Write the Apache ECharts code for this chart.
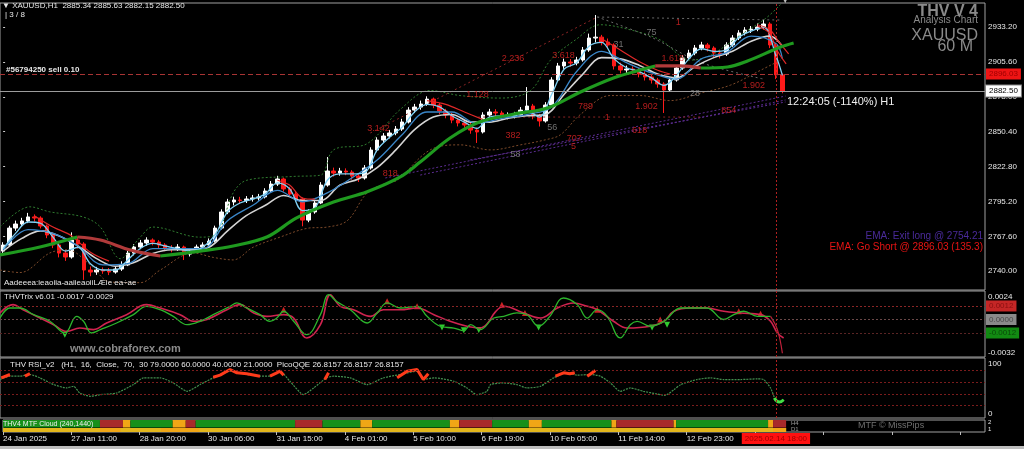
<!DOCTYPE html>
<html><head><meta charset="utf-8">
<script src="https://cdn.jsdelivr.net/npm/echarts@6/dist/echarts.min.js"></script>
<style>html,body{margin:0;padding:0;background:#000;overflow:hidden}#c{width:1024px;height:449px}</style>
</head><body><div id="c"></div>
<script>
// ---------------- DATA ----------------
const SLOTS = 158; // 3-hour bar slots across the visible window (incl. chart shift)
const priceTicks = [2740.00, 2767.60, 2795.20, 2822.80, 2850.40, 2878.00, 2905.60, 2933.20];
const timeLabels = ['24 Jan 2025','27 Jan 11:00','28 Jan 20:00','30 Jan 06:00','31 Jan 15:00','4 Feb 01:00','5 Feb 10:00','6 Feb 19:00','10 Feb 05:00','11 Feb 14:00','12 Feb 23:00'];
const lastBarLabel = '2025.02.14 18:00';
// [open, close, low, high]
const candles = [
[2756.0,2760.8,2753.5,2763.0],[2760.8,2774.2,2759.5,2776.0],[2774.2,2777.4,2772.0,2780.1],[2777.4,2779.8,2775.6,2782.3],
[2779.8,2783.0,2778.1,2786.2],[2783.0,2782.1,2779.4,2785.0],[2782.1,2775.8,2773.9,2783.5],[2775.8,2768.7,2766.2,2777.0],
[2768.7,2760.8,2758.3,2770.4],[2760.8,2754.4,2751.0,2762.5],[2754.4,2751.3,2748.2,2757.0],[2751.3,2764.7,2750.0,2770.8],
[2764.7,2761.6,2758.0,2767.3],[2761.6,2741.0,2733.2,2763.0],[2741.0,2739.4,2736.1,2743.8],[2739.4,2741.0,2737.2,2743.5],
[2741.0,2740.2,2738.0,2743.1],[2740.2,2739.4,2737.0,2742.6],[2739.4,2741.8,2738.1,2744.0],[2741.8,2745.0,2740.3,2747.9],
[2745.0,2754.4,2744.1,2756.2],[2754.4,2759.2,2752.6,2761.4],[2759.2,2762.4,2757.5,2764.8],[2762.4,2764.7,2760.2,2766.9],
[2764.7,2763.1,2760.5,2766.0],[2763.1,2760.8,2758.2,2764.6],[2760.8,2758.4,2755.9,2762.2],[2758.4,2757.6,2755.0,2760.7],
[2757.6,2759.2,2756.1,2761.5],[2759.2,2753.6,2748.9,2760.3],[2753.6,2756.0,2751.7,2758.2],[2756.0,2759.2,2754.5,2761.1],
[2759.2,2760.8,2757.4,2762.9],[2760.8,2763.9,2759.0,2766.0],[2763.9,2774.2,2762.8,2776.1],[2774.2,2786.9,2773.0,2789.0],
[2786.9,2794.8,2785.2,2797.3],[2794.8,2796.4,2792.1,2799.0],[2796.4,2796.0,2793.3,2798.9],[2796.0,2797.2,2794.0,2799.5],
[2797.2,2798.0,2795.1,2800.4],[2798.0,2798.8,2795.9,2801.2],[2798.8,2803.5,2797.6,2805.7],[2803.5,2809.0,2802.2,2811.4],
[2809.0,2813.0,2807.5,2815.5],[2813.0,2805.1,2803.0,2814.1],[2805.1,2801.1,2798.7,2806.8],[2801.1,2797.2,2795.0,2802.9],
[2797.2,2780.5,2775.6,2798.4],[2780.5,2786.9,2778.8,2789.0],[2786.9,2794.0,2785.5,2796.2],[2794.0,2808.2,2793.1,2810.5],
[2808.2,2819.3,2806.9,2830.4],[2819.3,2817.7,2814.9,2822.0],[2817.7,2819.3,2815.6,2821.8],[2819.3,2818.5,2816.0,2821.4],
[2818.5,2815.3,2812.4,2820.0],[2815.3,2813.8,2810.6,2817.2],[2813.8,2821.7,2812.5,2824.0],[2821.7,2835.9,2820.4,2838.1],
[2835.9,2843.8,2834.2,2846.0],[2843.8,2847.0,2841.5,2849.3],[2847.0,2849.4,2845.1,2851.8],[2849.4,2852.5,2847.6,2854.9],
[2852.5,2858.1,2851.0,2860.6],[2858.1,2867.5,2856.9,2869.8],[2867.5,2869.9,2865.2,2872.4],[2869.9,2872.3,2867.8,2875.0],
[2872.3,2876.2,2870.9,2878.4],[2876.2,2871.5,2869.0,2877.4],[2871.5,2866.8,2864.2,2873.0],[2866.8,2863.6,2861.0,2868.5],
[2863.6,2859.6,2857.1,2865.2],[2859.6,2857.3,2854.6,2861.4],[2857.3,2855.7,2852.9,2859.0],[2855.7,2851.7,2848.8,2857.5],
[2851.7,2850.2,2841.5,2853.6],[2850.2,2863.6,2849.0,2865.8],[2863.6,2866.0,2861.7,2868.5],[2866.0,2865.2,2862.4,2868.2],
[2865.2,2862.8,2860.1,2867.0],[2862.8,2863.0,2860.2,2865.7],[2863.0,2863.6,2860.9,2866.1],[2863.6,2867.5,2862.2,2869.9],
[2867.5,2870.7,2865.9,2885.7],[2870.7,2862.8,2860.2,2872.4],[2862.8,2858.9,2854.5,2864.5],[2858.9,2871.5,2857.6,2873.8],
[2871.5,2891.3,2870.2,2893.5],[2891.3,2902.4,2889.9,2904.8],[2902.4,2905.5,2900.1,2908.2],[2905.5,2904.7,2901.8,2907.9],
[2904.7,2907.1,2902.9,2909.6],[2907.1,2915.0,2905.8,2917.4],[2915.0,2924.5,2913.6,2928.0],[2924.5,2925.2,2921.0,2942.7],
[2925.2,2921.3,2918.7,2927.0],[2921.3,2919.0,2916.2,2924.1],[2919.0,2902.4,2899.6,2920.3],[2902.4,2899.2,2896.5,2905.0],
[2899.2,2900.0,2896.8,2902.7],[2900.0,2899.2,2896.3,2902.1],[2899.2,2896.0,2893.4,2901.0],[2896.0,2893.7,2890.9,2898.2],
[2893.7,2891.3,2888.5,2895.6],[2891.3,2888.1,2885.2,2893.0],[2888.1,2883.4,2865.2,2889.5],[2883.4,2891.3,2881.9,2893.6],
[2891.3,2900.8,2890.0,2903.1],[2900.8,2908.7,2899.4,2911.0],[2908.7,2912.6,2907.0,2915.2],[2912.6,2916.6,2910.9,2919.0],
[2916.6,2919.0,2914.8,2921.5],[2919.0,2916.6,2913.9,2920.6],[2916.6,2912.6,2909.2,2918.0],[2912.6,2911.8,2908.4,2914.9],
[2911.8,2919.0,2910.3,2921.2],[2919.0,2924.5,2917.5,2926.8],[2924.5,2928.5,2922.9,2930.7],[2928.5,2930.8,2926.6,2933.1],
[2930.8,2931.6,2928.5,2934.0],[2931.6,2933.2,2929.9,2936.0],[2933.2,2935.6,2931.4,2938.8],[2935.6,2919.0,2916.5,2937.0],
[2919.0,2895.3,2892.0,2920.4],[2895.3,2882.5,2880.8,2896.5]
];
// moving-average ribbons: [bar, price]
const ribbonFast = [[0,2758],[2,2770],[4,2779],[6,2778],[8,2767],[10,2756],[12,2759],[14,2746],[16,2741],[18,2741],[20,2749],[22,2758],[24,2762],[26,2760],[28,2758],[30,2756],[32,2759],[34,2769],[36,2787],[38,2794],[40,2797],[42,2801],[44,2810],[46,2805],[48,2788],[50,2790],[52,2812],[54,2817],[56,2817],[58,2818],[60,2836],[62,2846],[64,2854],[66,2866],[68,2872],[70,2870],[72,2863],[74,2858],[76,2853],[78,2862],[80,2863],[82,2863],[84,2867],[86,2862],[88,2880],[90,2900],[92,2905],[94,2918],[96,2921],[98,2908],[100,2901],[102,2898],[104,2893],[106,2887],[108,2895],[110,2908],[112,2916],[114,2914],[116,2915],[118,2925],[120,2930],[122,2933],[124,2910],[125,2895]];
const ribbonMid = [[0,2757],[4,2773],[8,2770],[12,2760],[16,2745],[20,2746],[24,2758],[28,2758],[32,2758],[36,2780],[40,2792],[44,2804],[48,2795],[52,2802],[56,2814],[60,2828],[64,2848],[68,2866],[72,2866],[76,2857],[80,2861],[84,2864],[88,2870],[92,2898],[96,2914],[100,2905],[104,2897],[108,2892],[112,2908],[116,2913],[120,2926],[124,2920],[125,2908]];
const ribbonSlow = [[0,2756],[3,2766],[6,2772],[9,2768],[12,2760],[15,2750],[18,2744],[21,2747],[24,2754],[27,2757],[30,2757],[33,2759],[36,2772],[39,2784],[42,2792],[45,2800],[48,2796],[51,2796],[54,2808],[57,2813],[60,2822],[63,2836],[66,2852],[69,2862],[72,2864],[75,2858],[78,2858],[81,2861],[84,2863],[87,2864],[90,2880],[93,2896],[96,2909],[99,2908],[102,2903],[105,2896],[108,2893],[111,2902],[114,2909],[117,2914],[120,2922],[123,2926],[125,2918]];
const ribbonDown = [
  [[5,2784],[8,2775],[11,2768],[14,2755],[17,2748]],
  [[44,2812],[46,2808],[48,2798],[50,2797]],
  [[68,2875],[71,2872],[74,2866],[77,2860]],
  [[96,2924],[99,2915],[102,2906],[105,2899],[107,2896]],
  [[121,2934],[123,2928],[124,2916],[125.6,2904]],
  [[121,2935],[123,2931],[124.5,2921],[126,2912]]
];
// slow EMA, split where it turns
const emaSlowUp = [
  [[-0.5,2752.9],[5.9,2759.2],[11.9,2767.1]],
  [[25.2,2752.1],[31.6,2756.0],[36.9,2760.0],[42.4,2767.3],[47.0,2782.0],[53.0,2794.8],[58.4,2802.9],[63.7,2814.6],[66.9,2826.4],[71.7,2845.4],[76.5,2858.2],[81.8,2864.2],[87.3,2869.1],[92.6,2881.8],[97.9,2892.9],[102.2,2899.2],[104.6,2902.4]],
  [[111.9,2900.8],[116.2,2901.6],[119.4,2906.3],[124.7,2917.4],[126.8,2920.6]]
];
const emaSlowDown = [
  [[11.9,2767.1],[15.6,2764.7],[20.4,2756.8],[25.2,2752.1]],
  [[104.6,2902.4],[108.7,2902.4],[111.9,2900.8]]
];
const bandUpper = [[-0.5,2775],[4.3,2791],[7.5,2787],[12.8,2783],[15.6,2775],[18.8,2750],[22,2767],[24,2775],[31.6,2767],[34.3,2770],[36.9,2802],[39.1,2812],[46.5,2815],[50.9,2816],[53,2836],[58.4,2841],[63.7,2868],[68.5,2883],[73.3,2879],[79.8,2877],[84.6,2883],[87.8,2907],[91.8,2923],[95.8,2935],[100.6,2931],[105.4,2923],[110.3,2907],[113.5,2911],[118.3,2927],[122.3,2940],[124.7,2951]];
const bandLower = [[-0.5,2741],[2.7,2739],[7.5,2754.5],[10.3,2757],[14,2745],[17.2,2731.5],[22,2731],[25.2,2741],[30.5,2754.5],[33.7,2751],[36.9,2749],[40.1,2759],[44.4,2767],[48.8,2774],[52,2775],[55.2,2780],[58.4,2802],[61.6,2810],[63.2,2812],[68.5,2836],[73.3,2840],[78.2,2836],[83,2840],[87,2844],[89.4,2848],[92.6,2864],[97.4,2879],[102.2,2879],[107,2875],[111.9,2881],[116.7,2887.3],[121.5,2899],[124.7,2907]];
const fibFan = [
  [[61.3,2813.8],[125.5,2878.6]],
  [[66.9,2816.1],[125.5,2875.5]],
  [[74.9,2828.0],[125.5,2873.9]]
];
const fibRedLines = [
  [[58.9,2849.4],[95.3,2941.1]],
  [[76.2,2862.0],[111.9,2862.0]]
];
const fibGreyLines = [
  [[95.3,2941.1],[125.0,2938.7]],
  [[95.3,2941.1],[104,2925],[112,2905],[122,2892]]
];
const fibLabelsRed = [[60.2,2853.3,'3.142'],[62.1,2817.7,'818'],[76.1,2880.2,'1.128'],[81.8,2907.9,'2.236'],[89.9,2911.0,'3.618'],[108.3,2936.4,'1'],[107.4,2907.9,'1.618'],[120.4,2887.3,'1.902'],[93.4,2870.0,'789'],[103.2,2870.0,'1.902'],[96.9,2862.0,'1'],[116.4,2866.8,'854'],[81.8,2847.0,'382'],[91.6,2845.4,'707'],[102.1,2851.7,'618'],[91.5,2838.3,'5']];
const fibLabelsGrey = [[98.7,2919.0,'31'],[103.8,2928.5,'.75'],[111.0,2881.0,'28'],[88.1,2854.0,'56'],[82.2,2832.7,'58']];
const orderPrice = 2896.03, bidPrice = 2882.50;
// TRIX
const trixTicks = [0.0024, -0.0032];
const trixLevels = [0.0012, 0.0000, -0.0012];
const trixFast = [[-0.5,0.00013],[1.1,0.00102],[2.7,0.00102],[4.9,0.00043],[7.5,-0.00016],[9.9,-0.0012],[11.8,0.00028],[12.9,-0.00016],[14.2,-0.0012],[15.6,-0.0009],[18.2,-0.00031],[20.9,0.00043],[23.0,0.00117],[25.2,0.00087],[27.3,0.00028],[29.5,-0.00046],[31.6,-0.00016],[33.7,0.00043],[36.4,0.00117],[37.5,0.00147],[39.1,0.00102],[41.2,0.00043],[42.8,-0.00016],[43.9,0.00013],[45.0,0.00073],[46.6,-0.00016],[48.7,-0.00135],[50.9,0.00043],[52.2,0.0022],[53.5,0.0016],[55.7,0.00087],[58.4,-0.00031],[60.0,0.00058],[61.6,0.00147],[63.7,0.00102],[66.4,0.00117],[68.0,0.00028],[70.1,-0.0006],[72.3,-0.00076],[73.9,-0.001],[75.0,-0.00046],[76.5,-0.0009],[78.7,0.00013],[80.3,0.00028],[82.4,0.00058],[84.0,0.00043],[85.9,-0.0006],[87.7,0.00028],[89.9,0.00191],[92.1,0.00132],[93.7,0.00013],[95.3,0.00087],[96.9,0.00028],[99.0,-0.00164],[100.6,-0.00046],[101.7,-0.00016],[103.8,-0.0006],[106.0,-0.00016],[108.7,0.00102],[111.3,0.00102],[112.9,0.00102],[115.6,0.0],[117.2,0.00043],[118.8,0.00073],[121.0,0.00028],[123.1,0.00028]];
const trixFastTail = [[123.1,0.00028],[124.2,-0.0009],[125.0,-0.003]];
const trixSlow = [[-0.5,0.00058],[1.6,0.00132],[3.2,0.00087],[5.9,0.00013],[8.1,-0.00046],[10.2,-0.00105],[12.3,-0.00076],[14.5,-0.0009],[16.6,-0.00031],[19.8,0.00043],[23.0,0.00132],[25.2,0.00102],[28.4,0.00043],[30.5,-0.00016],[32.7,0.0],[35.9,0.00087],[38.0,0.00132],[40.2,0.00058],[42.3,0.00028],[45.0,0.00043],[46.6,0.00013],[48.7,-0.00164],[50.9,-0.00046],[52.5,0.0022],[54.1,0.00117],[56.2,0.00087],[58.9,0.00028],[61.0,0.00087],[63.7,0.00087],[66.4,0.00102],[69.1,0.00043],[71.7,-0.00016],[74.4,-0.0006],[76.5,-0.00076],[77.6,-0.0004],[79.0,0.0007],[80.3,0.00117],[83.5,0.00058],[86.2,0.00013],[88.9,0.00102],[91.5,0.00147],[93.7,0.00117],[95.3,0.00087],[97.9,-0.00016],[100.1,-0.00076],[103.8,-0.0006],[106.0,-0.00016],[107.6,0.00073],[110.3,0.00102],[112.9,0.00102],[115.6,0.00073],[118.3,0.00058],[121.5,0.00043],[123.1,-0.00016],[124.2,-0.0012],[125.2,-0.00164]];
const trixPeaks = [[45.0,0.00087],[61.6,0.00161],[66.4,0.00117],[80.0,0.00132],[83.7,0.00058],[95.3,0.00087],[105.4,0.0],[118.0,0.00073],[121.5,0.00052]];
const trixTroughs = [[9.9,-0.00135],[70.4,-0.0007],[73.9,-0.00096],[76.3,-0.00093],[85.9,-0.0007],[104.1,-0.0007],[106.5,-0.00046]];
// RSI
const rsiTicks = [100, 0];
const rsiLevels = [79, 60, 40, 21];
const rsiLine = [[-0.5,64.1],[1.1,69.7],[2.7,69.7],[4.3,72.5],[5.9,66.9],[8.1,55.7],[10.2,50.1],[11.3,52.9],[12.3,41.7],[14.0,36.1],[15.6,38.9],[18.2,41.7],[20.9,55.7],[22.5,66.9],[25.2,66.9],[27.3,58.5],[29.5,44.5],[31.6,55.7],[33.7,66.9],[36.4,78.1],[39.1,72.5],[41.2,69.7],[42.8,69.7],[44.4,78.1],[46.0,61.3],[48.2,38.9],[49.8,50.1],[51.9,66.9],[53.0,69.7],[55.7,66.9],[58.4,55.7],[61.0,66.9],[63.7,72.5],[66.4,78.1],[67.4,64.1],[69.1,66.9],[72.3,61.3],[74.4,50.1],[76.0,38.9],[77.6,44.5],[78.2,55.7],[80.3,58.5],[82.4,55.7],[84.0,50.1],[86.2,52.9],[88.3,66.9],[90.4,75.3],[92.1,71.4],[94.2,72.5],[95.8,69.7],[97.4,58.5],[99.0,44.5],[100.6,50.1],[102.7,44.5],[104.9,40.0],[106.2,37.8],[107.6,47.3],[108.7,55.7],[111.3,64.1],[113.5,66.9],[115.6,64.1],[118.3,64.1],[121.0,65.2],[122.0,64.1],[123.1,50.1],[123.9,30.5],[124.7,27.7],[125.2,30.5]];
const rsiHot = [
  [[-0.3,66.9],[1.1,72.5]],
  [[3.5,69.7],[4.3,74.0]],
  [[33.7,68.0],[34.8,71.4],[36.4,80.8],[37.5,75.3],[39.1,73.6],[41.2,69.7]],
  [[42.8,69.7],[43.9,75.3],[44.4,78.1],[45.0,71.4]],
  [[51.6,64.1],[52.2,75.3]],
  [[63.2,66.9],[64.8,78.1],[66.4,80.8],[67.4,64.1],[68.2,73.6]],
  [[88.6,69.7],[89.9,75.3],[90.9,73.6],[91.7,75.3]],
  [[93.7,69.7],[95.0,79.2]]
];
const rsiCold = [[123.7,33.3],[124.5,26.6],[125.2,30.5]];
// MTF cloud: [fromBar, toBar, state]
const mtfH4 = [[-0.5,15.1,'up'],[15.1,18.8,'down'],[18.8,20.0,'flat'],[20.0,26.8,'up'],[26.8,28.9,'flat'],[28.9,30.5,'down'],[30.5,46.5,'up'],[46.5,50.9,'down'],[50.9,57.0,'up'],[57.0,58.9,'flat'],[58.9,71.4,'up'],[71.4,72.9,'flat'],[72.9,78.2,'down'],[78.2,84.1,'up'],[84.1,86.2,'flat'],[86.2,97.4,'up'],[97.4,98.2,'flat'],[98.2,107.4,'down'],[107.4,107.8,'flat'],[107.8,122.6,'up'],[122.6,123.4,'flat'],[123.4,125.5,'down']];
const mtfD1 = [[-0.5,125.5,'weak'],[15.1,18.4,'flat'],[24.9,31.1,'flat'],[123.4,125.5,'flat']];

// ---------------- CHART ----------------
const FONT = 'Liberation Sans, Arial, sans-serif';
const chart = echarts.init(document.getElementById('c'), null, {renderer: 'canvas'});
const cats = Array.from({length: SLOTS}, (_, i) => String(i));
const GRID = {left: 0, right: 39, show: true, borderColor: '#a0a0a0', borderWidth: 1, backgroundColor: '#000'};
const hiddenValX = (g) => ({type: 'value', gridIndex: g, min: -0.5, max: SLOTS - 0.5, show: false});
const lineS = (data, color, width, extra) => Object.assign({type: 'line', xAxisIndex: 1, yAxisIndex: 0, data, showSymbol: false, symbol: 'none', silent: true, smooth: 0.35, lineStyle: {color, width}}, extra || {});

const series = [];
series.push({
  type: 'candlestick', xAxisIndex: 0, yAxisIndex: 0, data: candles, barWidth: 4, z: 1, silent: true,
  itemStyle: {color: '#ffffff', color0: '#ff1a1a', borderColor: '#ffffff', borderColor0: '#ff1a1a', borderWidth: 1},
  markLine: {
    silent: true, symbol: ['none', 'none'], animation: false, precision: 2,
    data: [
      {yAxis: orderPrice, lineStyle: {color: '#a83434', type: [5, 3], width: 1},
       label: {show: true, position: 'end', distance: 1, formatter: orderPrice.toFixed(2), backgroundColor: '#ee1414', color: '#a00000', fontSize: 8, fontFamily: FONT, padding: [2, 3, 1, 3]}},
      {yAxis: bidPrice, lineStyle: {color: '#9c9c9c', type: 'solid', width: 1},
       label: {show: true, position: 'end', distance: 1, formatter: bidPrice.toFixed(2), backgroundColor: '#ffffff', borderColor: '#888', borderWidth: 1, color: '#000', fontSize: 8, fontFamily: FONT, padding: [2, 3, 1, 3]}},
      {xAxis: '124', lineStyle: {color: '#b02020', type: [2, 2], width: 1}, label: {show: false}}
    ]
  }
});
series.push(lineS(bandUpper, '#2f6b2f', 1, {lineStyle: {color: '#2f7a2f', width: 1, type: [2, 2]}}));
series.push(lineS(bandLower, '#7a4628', 1, {lineStyle: {color: '#7d4a2a', width: 1, type: [2, 2]}}));
fibFan.forEach(d => series.push(lineS(d, '#5a2a8a', 1, {smooth: false, lineStyle: {color: '#5b2c90', width: 1, type: [2, 2]}})));
fibRedLines.forEach(d => series.push(lineS(d, '#8a2020', 1, {smooth: false, lineStyle: {color: '#8c2424', width: 1, type: [2, 3]}})));
fibGreyLines.forEach(d => series.push(lineS(d, '#666', 1, {smooth: 0.3, lineStyle: {color: '#6a6a6a', width: 1, type: [2, 3]}})));
series.push(lineS(ribbonSlow, '#d4d4d4', 1.6));
series.push(lineS(ribbonMid, '#3a86c8', 1.3));
series.push(lineS(ribbonFast, '#7fd0f4', 1.3));
ribbonDown.forEach(d => series.push(lineS(d, '#e02828', 1.2)));
emaSlowUp.forEach(d => series.push(lineS(d, '#1f9a1f', 3.2, {z: 5})));
emaSlowDown.forEach(d => series.push(lineS(d, '#b03a3a', 3.2, {z: 5})));
const fibLabelSeries = (arr, color) => ({
  type: 'scatter', xAxisIndex: 1, yAxisIndex: 0, silent: true, symbolSize: 0, z: 6,
  data: arr.map(a => ({value: [a[0], a[1]], name: a[2]})),
  label: {show: true, position: 'inside', formatter: p => p.name, color, fontSize: 9, fontFamily: FONT}
});
series.push(fibLabelSeries(fibLabelsRed, '#e02424'));
series.push(fibLabelSeries(fibLabelsGrey, '#8c8c8c'));

// TRIX panel
const boxLabel = (txt, bg, fg) => ({show: true, position: 'end', distance: 1, formatter: txt, backgroundColor: bg, color: fg, fontSize: 8, fontFamily: FONT, padding: [2, 3, 1, 3]});
series.push({type: 'line', xAxisIndex: 2, yAxisIndex: 1, data: trixSlow, showSymbol: false, symbol: 'none', silent: true, smooth: 0.4, lineStyle: {color: '#d0234f', width: 1.6},
  markLine: {silent: true, symbol: ['none', 'none'], animation: false, precision: 6, data: [
    {yAxis: trixLevels[0], lineStyle: {color: '#8a2626', type: [2, 2], width: 1}, label: boxLabel(trixLevels[0].toFixed(4), '#c42626', '#8a1010')},
    {yAxis: trixLevels[1], lineStyle: {color: '#6a4848', type: [2, 2], width: 1}, label: boxLabel(trixLevels[1].toFixed(4), '#8a8a8a', '#4a4a4a')},
    {yAxis: trixLevels[2], lineStyle: {color: '#5a2424', type: [2, 2], width: 1}, label: boxLabel(trixLevels[2].toFixed(4), '#128a12', '#0a4a0a')},
    {xAxis: 124, lineStyle: {color: '#b02020', type: [2, 2], width: 1}, label: {show: false}}
  ]}});
series.push({type: 'line', xAxisIndex: 2, yAxisIndex: 1, data: trixFast, showSymbol: false, symbol: 'none', silent: true, smooth: 0.4, lineStyle: {color: '#2cb52c', width: 1.3}});
series.push({type: 'line', xAxisIndex: 2, yAxisIndex: 1, data: trixFastTail, showSymbol: false, symbol: 'none', silent: true, smooth: 0.4, lineStyle: {color: '#c0203a', width: 1.2}});
series.push({type: 'scatter', xAxisIndex: 2, yAxisIndex: 1, data: trixPeaks, symbol: 'triangle', symbolSize: 6, silent: true, itemStyle: {color: '#ff2a2a'}});
series.push({type: 'scatter', xAxisIndex: 2, yAxisIndex: 1, data: trixTroughs, symbol: 'triangle', symbolRotate: 180, symbolSize: 6, silent: true, itemStyle: {color: '#3cff3c'}});

// RSI panel
series.push({type: 'line', xAxisIndex: 3, yAxisIndex: 2, data: rsiLine, showSymbol: false, symbol: 'none', silent: true, smooth: 0.2, lineStyle: {color: '#43904f', width: 1.2, type: [2, 1]},
  markLine: {silent: true, symbol: ['none', 'none'], animation: false, data: rsiLevels.map(v => ({yAxis: v, lineStyle: {color: '#7a1c1c', type: [2, 2], width: 1}, label: {show: false}})).concat([{xAxis: 124, lineStyle: {color: '#b02020', type: [2, 2], width: 1}, label: {show: false}}])}});
rsiHot.forEach(d => series.push({type: 'line', xAxisIndex: 3, yAxisIndex: 2, data: d, showSymbol: false, symbol: 'none', silent: true, lineStyle: {color: '#ff3a1a', width: 3}}));
series.push({type: 'line', xAxisIndex: 3, yAxisIndex: 2, data: rsiCold, showSymbol: false, symbol: 'none', silent: true, smooth: 0.5, lineStyle: {color: '#44e044', width: 3}});

// MTF cloud
const mtfColors = {up: '#17901a', down: '#a82a2a', flat: '#f0a616', weak: '#e3b71c'};
const mtfRows = {H4: [1.1, 3], D1: [0, 1]};
const rectSeries = (arr, row) => ({
  type: 'custom', xAxisIndex: 4, yAxisIndex: 3, silent: true,
  data: arr.map(a => [a[0], a[1], a[2]]),
  renderItem: (params, api) => {
    const r = mtfRows[row];
    const p0 = api.coord([api.value(0), r[1]]);
    const p1 = api.coord([api.value(1), r[0]]);
    return {type: 'rect', shape: {x: p0[0], y: p0[1], width: p1[0] - p0[0], height: p1[1] - p0[1]}, style: {fill: mtfColors[arr[params.dataIndex][2]]}};
  }
});
series.push(rectSeries(mtfD1, 'D1'));
series.push(rectSeries(mtfH4, 'H4'));

const axisTxt = {color: '#e8e8e8', fontSize: 8, fontFamily: FONT};
const option = {
  backgroundColor: '#000', animation: false,
  grid: [
    Object.assign({top: 3, height: 287}, GRID),
    Object.assign({top: 291, height: 66}, GRID),
    Object.assign({top: 358, height: 60}, GRID),
    Object.assign({top: 420, height: 12}, GRID)
  ],
  xAxis: [
    {type: 'category', gridIndex: 0, data: cats, boundaryGap: true, show: false},
    hiddenValX(0), hiddenValX(1), hiddenValX(2),
    {type: 'value', gridIndex: 3, min: -0.5, max: SLOTS - 0.5, interval: 11, position: 'bottom',
     axisLine: {show: false}, splitLine: {show: false},
     axisTick: {show: true, length: 3, lineStyle: {color: '#bdbdbd'}},
     axisLabel: Object.assign({show: true, align: 'left', margin: 3, showMaxLabel: false,
       formatter: v => { const k = Math.round((v + 0.5) / 11); return (Math.abs(v + 0.5 - 11 * k) < 0.01 && timeLabels[k]) ? timeLabels[k] : ''; }}, axisTxt)}
  ],
  yAxis: [
    {type: 'value', gridIndex: 0, position: 'right', min: 2725.2, max: 2952.2, scale: true, splitLine: {show: false},
     axisLine: {show: false}, axisTick: {show: true, length: 2, customValues: priceTicks, lineStyle: {color: '#ccc'}},
     axisLabel: Object.assign({margin: 3, customValues: priceTicks, formatter: v => v.toFixed(2)}, axisTxt)},
    {type: 'value', gridIndex: 1, position: 'right', min: -0.00333, max: 0.00253, splitLine: {show: false},
     axisLine: {show: false}, axisTick: {show: false},
     axisLabel: Object.assign({margin: 3, customValues: trixTicks, formatter: v => v > 0 ? '{t|' + v.toFixed(4) + '}' : '{b|' + v.toFixed(4) + '}',
       rich: {t: {color: '#e8e8e8', fontSize: 8, fontFamily: FONT, padding: [8, 0, 0, 0]}, b: {color: '#e8e8e8', fontSize: 8, fontFamily: FONT, padding: [0, 0, 6, 0]}}}, axisTxt)},
    {type: 'value', gridIndex: 2, position: 'right', min: 0, max: 100, splitLine: {show: false},
     axisLine: {show: false}, axisTick: {show: false},
     axisLabel: Object.assign({margin: 3, customValues: rsiTicks, formatter: v => v > 50 ? '{t|' + v + '}' : '{b|' + v + '}',
       rich: {t: {color: '#e8e8e8', fontSize: 8, fontFamily: FONT, padding: [11, 0, 0, 0]}, b: {color: '#e8e8e8', fontSize: 8, fontFamily: FONT, padding: [0, 0, 9, 0]}}}, axisTxt)},
    {type: 'value', gridIndex: 3, position: 'right', min: 0, max: 3, splitLine: {show: false},
     axisLine: {show: false}, axisTick: {show: false},
     axisLabel: {margin: 3, customValues: [2.4, 0.6], formatter: v => v > 1.5 ? '2' : '1', color: '#e8e8e8', fontSize: 6, fontFamily: FONT}}
  ],
  series
};
chart.setOption(option);

// text annotations
const T = (x, y, text, o) => ({type: 'text', left: x, top: y, z: 100, silent: true, style: Object.assign({text, fill: '#e8e8e8', font: '8px ' + FONT}, o || {})});
const TR = (xr, y, text, o) => ({type: 'text', right: xr, top: y, z: 100, silent: true, style: Object.assign({text, fill: '#e8e8e8', font: '8px ' + FONT}, o || {})});
const vx = chart.convertToPixel({xAxisIndex: 4}, 124);
const graphics = [
  T(2, 2, '\u25BC XAUUSD,H1  2885.34 2885.63 2882.15 2882.50'),
  T(5, 11, '| 3 / 8'),
  T(6, 66, '#56794250 sell 0.10', {font: 'bold 8px ' + FONT}),
  {type: 'text', left: vx + 4, top: -4, z: 100, silent: true, style: {text: '\u25BC', fill: '#bbbbbb', font: '9px ' + FONT}},
  TR(46, 4, 'THV V 4', {fill: '#8a8a8a', font: 'bold 16px ' + FONT}),
  TR(46, 15, 'Analysis Chart', {fill: '#8a8a8a', font: '10px ' + FONT}),
  TR(46, 28, 'XAUUSD', {fill: '#8a8a8a', font: '16px ' + FONT}),
  TR(51, 39, '60 M', {fill: '#8a8a8a', font: '16px ' + FONT}),
  T(787, 96, '12:24:05 (-1140%) H1', {fill: '#f0f0f0', font: '11px ' + FONT}),
  TR(41, 231, 'EMA: Exit long @ 2754.21', {fill: '#4a2a9a', font: '10px ' + FONT}),
  TR(41, 242, 'EMA: Go Short @ 2896.03 (135.3)', {fill: '#e81414', font: '10px ' + FONT}),
  T(4, 279, 'Aadeeea:ieaoiia-aaiieaoiiLÆie ea÷ae'),
  T(4, 293, 'THVTrix v6.01 -0.0017 -0.0029'),
  T(70, 343, 'www.cobraforex.com', {fill: '#8a8a8a', font: 'bold 11px ' + FONT}),
  T(10, 361, 'THV RSI_v2   (H1,  16,  Close,  70,  30 79.0000 60.0000 40.0000 21.0000  PicoQQE 26.8157 26.8157 26.8157'),
  T(3, 421, 'THV4 MTF Cloud (240,1440)', {font: '7px ' + FONT, fill: '#f0f0f0'}),
  T(791, 420, 'H4', {font: '6px ' + FONT, fill: '#9a9a9a'}),
  T(791, 426, 'D1', {font: '6px ' + FONT, fill: '#9a9a9a'}),
  T(858, 421, 'MTF \u00A9 MissPips', {fill: '#6f6f6f', font: '9px ' + FONT}),
  {type: 'text', left: vx - 35, top: 433, z: 100, silent: true, style: {text: lastBarLabel, fill: '#a00000', font: '8px ' + FONT, backgroundColor: '#ff1010', padding: [2, 3, 1, 3]}},
  {type: 'rect', left: 0, top: 446, z: 90, silent: true, shape: {width: 1024, height: 3}, style: {fill: '#bdbdbd'}}
];
chart.setOption({graphic: graphics});
</script>
</body></html>
